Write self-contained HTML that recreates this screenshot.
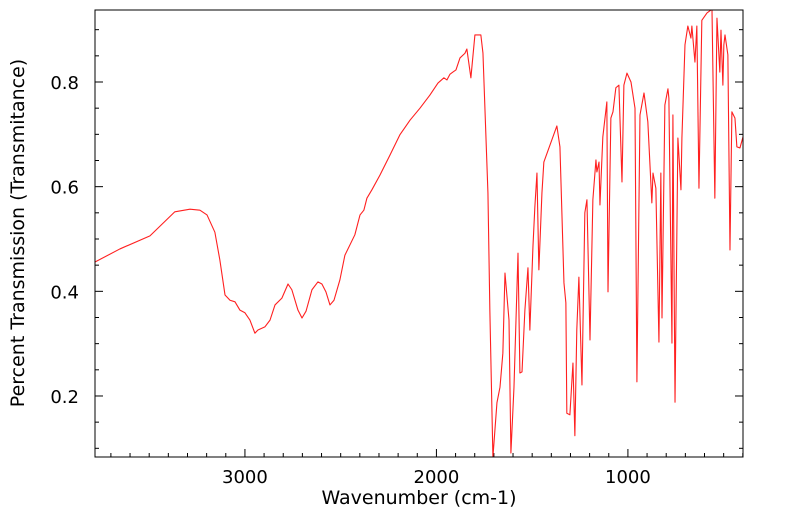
<!DOCTYPE html>
<html><head><meta charset="utf-8"><style>
html,body{margin:0;padding:0;background:#fff;}
svg{display:block;font-family:"DejaVu Sans","Liberation Sans",sans-serif;}
</style></head><body>
<svg id="chart" width="799" height="516" viewBox="0 0 799 516">
<defs><clipPath id="clip"><rect x="95" y="10" width="648" height="447"/></clipPath></defs>
<g id="ticks"></g>
<path id="spectrum" clip-path="url(#clip)" fill="none" stroke="#ff2020" stroke-width="1.1" stroke-linejoin="round"/>
<rect x="95" y="10" width="648" height="447" fill="none" stroke="#000" stroke-width="1"/>
<text x="419" y="504" font-size="19" text-anchor="middle">Wavenumber (cm-1)</text>
<text transform="translate(24,233) rotate(-90)" font-size="19" text-anchor="middle">Percent Transmission (Transmitance)</text>
</svg>
<script>
const wavenumbers=[3783,3653,3496,3366,3287,3235,3198,3157,3131,3104,3078,3052,3026,3000,2974,2948,2932,2896,2869,2843,2807,2775,2755,2723,2702,2681,2650,2619,2598,2577,2556,2535,2504,2478,2426,2399,2379,2363,2337,2295,2243,2191,2138,2086,2034,1992,1961,1945,1929,1914,1898,1877,1851,1841,1820,1799,1768,1757,1731,1721,1705,1684,1668,1653,1642,1621,1611,1595,1574,1564,1553,1538,1522,1512,1496,1486,1475,1465,1449,1439,1371,1355,1334,1324,1319,1303,1287,1277,1267,1256,1240,1225,1214,1198,1183,1167,1162,1151,1146,1131,1110,1104,1089,1078,1063,1047,1031,1021,1005,984,963,953,937,916,896,875,869,854,838,828,822,807,791,786,770,765,754,739,723,718,702,687,671,666,650,640,629,614,587,561,546,535,520,514,504,499,493,478,467,457,441,431,415,399];
const transmittance=[0.456,0.481,0.506,0.552,0.557,0.555,0.546,0.513,0.460,0.393,0.383,0.380,0.364,0.359,0.345,0.320,0.326,0.332,0.345,0.374,0.387,0.414,0.403,0.364,0.349,0.362,0.403,0.418,0.414,0.399,0.374,0.383,0.422,0.469,0.508,0.546,0.555,0.578,0.594,0.622,0.660,0.699,0.727,0.750,0.775,0.798,0.808,0.804,0.815,0.819,0.823,0.846,0.855,0.863,0.808,0.890,0.890,0.855,0.588,0.364,0.083,0.187,0.217,0.282,0.435,0.345,0.091,0.217,0.473,0.244,0.246,0.364,0.445,0.326,0.485,0.561,0.626,0.441,0.588,0.647,0.716,0.676,0.416,0.378,0.167,0.164,0.263,0.124,0.326,0.427,0.221,0.550,0.575,0.307,0.575,0.651,0.628,0.647,0.565,0.695,0.762,0.399,0.731,0.743,0.789,0.794,0.609,0.794,0.817,0.800,0.750,0.227,0.737,0.779,0.724,0.569,0.626,0.597,0.303,0.626,0.349,0.756,0.787,0.769,0.301,0.737,0.188,0.693,0.594,0.693,0.871,0.907,0.884,0.907,0.838,0.907,0.597,0.918,0.932,0.939,0.578,0.922,0.819,0.899,0.794,0.871,0.890,0.852,0.479,0.743,0.731,0.676,0.674,0.695];
const xTickValues=[3000,2000,1000];
const xTickLabels=["3000","2000","1000"];
const yTickValues=[0.2,0.4,0.6,0.8];
const yTickLabels=["0.2","0.4","0.6","0.8"];
const X0=95,X1=743,Y0=10,Y1=457,WMAX=3783,WMIN=399,TMAX=0.9376,TMIN=0.0834;
function xs(w){return X0+(WMAX-w)/(WMAX-WMIN)*(X1-X0);}
function ys(t){return Y0+(TMAX-t)/(TMAX-TMIN)*(Y1-Y0);}
const NS='http://www.w3.org/2000/svg';
let d='';
for(let i=0;i<wavenumbers.length;i++){d+=(i?'L':'M')+xs(wavenumbers[i]).toFixed(2)+' '+ys(transmittance[i]).toFixed(2);}
document.getElementById('spectrum').setAttribute('d',d);
const g=document.getElementById('ticks');
const svg=document.getElementById('chart');
function line(x1,y1,x2,y2){const l=document.createElementNS(NS,'line');l.setAttribute('x1',x1);l.setAttribute('y1',y1);l.setAttribute('x2',x2);l.setAttribute('y2',y2);l.setAttribute('stroke','#000');l.setAttribute('stroke-width','1');


g.appendChild(l);}
for(let w=3700;w>=400;w-=100){const x=xs(w);const major=w%1000===0;line(x,Y1,x,Y1-(major?8:4));}
for(let k=2;k<=18;k++){const t=k*0.05;const y=ys(t);if(y<Y0||y>Y1)continue;const major=k%4===0;line(X0,y,X0+(major?8:4),y);line(X1,y,X1-(major?8:4),y);}
xTickValues.forEach((v,i)=>{const t=document.createElementNS(NS,'text');t.setAttribute('x',xs(v));t.setAttribute('y',483);t.setAttribute('font-size','18');t.setAttribute('text-anchor','middle');t.textContent=xTickLabels[i];


svg.appendChild(t);});
yTickValues.forEach((v,i)=>{const t=document.createElementNS(NS,'text');t.setAttribute('x',79);t.setAttribute('y',ys(v)+7);t.setAttribute('font-size','18');t.setAttribute('text-anchor','end');t.textContent=yTickLabels[i];


svg.appendChild(t);});
</script>
</body></html>
